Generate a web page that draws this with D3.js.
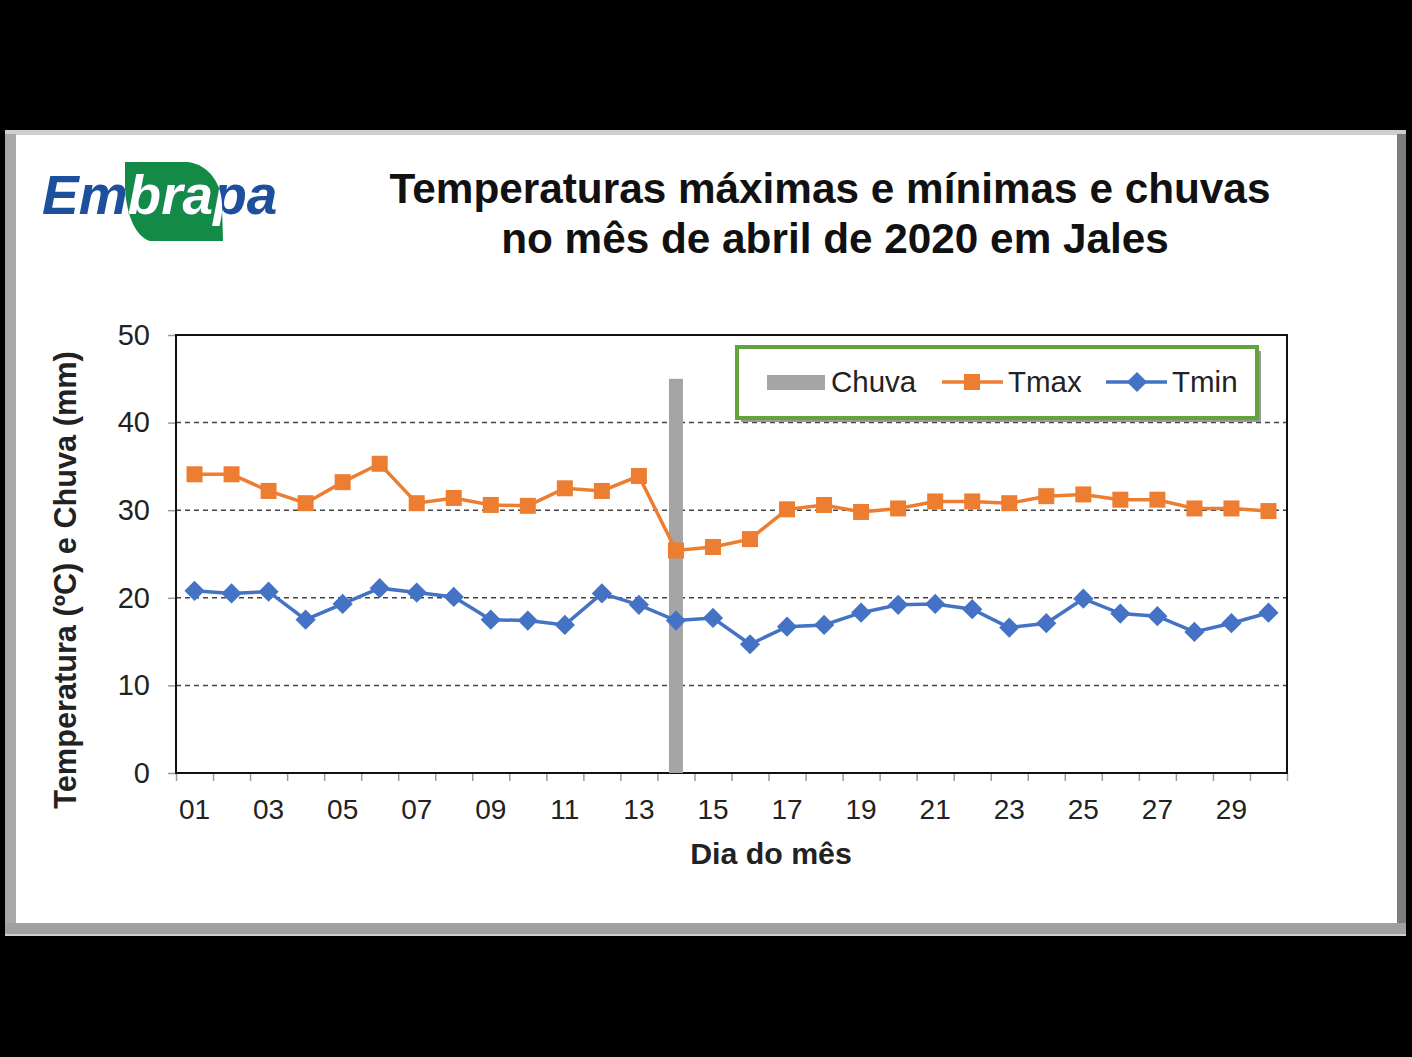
<!DOCTYPE html>
<html>
<head>
<meta charset="utf-8">
<script src="https://cdn.jsdelivr.net/npm/d3@7"></script>
<style>
  body { margin: 0; background: #000; }
  svg { display: block; }
  text { font-family: "Liberation Sans", Arial, sans-serif; }
</style>
</head>
<body>
<svg id="chart"></svg>
<script>
// data
const days = d3.range(1, 31).map(d => String(d).padStart(2, '0'));
const tickLabels = days.filter((d, i) => i % 2 === 0);
const chuva = [0,0,0,0,0,0,0,0,0,0,0,0,0,45,0,0,0,0,0,0,0,0,0,0,0,0,0,0,0,0];
const tmax = [34.1,34.1,32.2,30.8,33.2,35.3,30.8,31.4,30.6,30.5,32.5,32.2,33.9,25.4,25.8,26.7,30.1,30.6,29.8,30.2,31.0,31.0,30.8,31.6,31.8,31.2,31.2,30.2,30.2,29.9];
const tmin = [20.8,20.5,20.7,17.5,19.3,21.1,20.6,20.1,17.5,17.4,16.9,20.5,19.2,17.4,17.7,14.7,16.7,16.9,18.3,19.2,19.3,18.7,16.6,17.1,19.9,18.2,17.9,16.1,17.1,18.3];
const yTicks = [0, 10, 20, 30, 40, 50];

const W = 1412, H = 1057;
const plot = { left: 176, top: 335, right: 1287, bottom: 773 };
const orange = '#ed7d31', blue = '#4472c4', grey = '#a5a5a5';

const svg = d3.select('#chart').attr('width', W).attr('height', H);

// background + bevelled panel
svg.append('rect').attr('width', W).attr('height', H).attr('fill', '#000');
svg.append('rect').attr('x', 5).attr('y', 130).attr('width', 1401).attr('height', 806).attr('fill', '#cfcfcf');
svg.append('rect').attr('x', 5).attr('y', 134).attr('width', 11).attr('height', 800).attr('fill', '#a8a8a8');
svg.append('rect').attr('x', 1397).attr('y', 134).attr('width', 9).attr('height', 800).attr('fill', '#7d7d7d');
svg.append('rect').attr('x', 5).attr('y', 923).attr('width', 1401).attr('height', 11).attr('fill', '#a0a0a0');
svg.append('rect').attr('x', 16).attr('y', 135).attr('width', 1381).attr('height', 788).attr('fill', '#fff');

// logo
const leaf = 'M125,162 L188,162 C210,165 222,185 222,205 L223,241 L150,241 C135,236 127,215 125,190 Z';
svg.append('clipPath').attr('id', 'leafclip').append('path').attr('d', leaf);
svg.append('path').attr('d', leaf).attr('fill', '#138a45');
const logoText = g => g.append('text')
  .attr('x', 42).attr('y', 214)
  .style('font-size', '55px').style('font-weight', 'bold').style('font-style', 'italic')
  .text('Embrapa');
logoText(svg).attr('fill', '#1d4f9c');
logoText(svg.append('g').attr('clip-path', 'url(#leafclip)')).attr('fill', '#fff');

// title
svg.append('text').attr('x', 830).attr('y', 203).attr('text-anchor', 'middle')
  .style('font-size', '42.3px').style('font-weight', 'bold').attr('fill', '#111')
  .text('Temperaturas máximas e mínimas e chuvas');
svg.append('text').attr('x', 835).attr('y', 253).attr('text-anchor', 'middle')
  .style('font-size', '42.3px').style('font-weight', 'bold').attr('fill', '#111')
  .text('no mês de abril de 2020 em Jales');

// scales
const x = d3.scaleBand().domain(days).range([plot.left, plot.right]);
const xEdge = d3.scaleLinear().domain([0, days.length]).range([plot.left, plot.right]);
const y = d3.scaleLinear().domain([0, 50]).range([plot.bottom, plot.top]);
const cx = d => x(d) + x.bandwidth() / 2;

// gridlines
svg.append('g').selectAll('line')
  .data(yTicks.filter(t => t > 0 && t < 50))
  .join('line')
  .attr('x1', plot.left).attr('x2', plot.right)
  .attr('y1', d => y(d)).attr('y2', d => y(d))
  .attr('stroke', '#444').attr('stroke-width', 1.5).attr('stroke-dasharray', '5,4');

// axes
const yAxisG = svg.append('g').attr('transform', `translate(${plot.left},0)`)
  .call(d3.axisLeft(y).tickValues(yTicks).tickSize(8).tickPadding(18));
yAxisG.select('.domain').remove();
yAxisG.selectAll('line').attr('stroke', '#999').attr('stroke-width', 1.5);
yAxisG.selectAll('text').style('font-size', '29px').attr('fill', '#222')
  .attr('font-family', null);

const xTickG = svg.append('g').attr('transform', `translate(0,${plot.bottom})`)
  .call(d3.axisBottom(xEdge).tickValues(d3.range(0, 31)).tickSize(8).tickFormat(''));
xTickG.select('.domain').remove();
xTickG.selectAll('line').attr('stroke', '#999').attr('stroke-width', 1.5);

const xAxisG = svg.append('g').attr('transform', `translate(0,${plot.bottom})`)
  .call(d3.axisBottom(x).tickValues(tickLabels).tickSize(0).tickPadding(26));
xAxisG.select('.domain').remove();
xAxisG.selectAll('text').style('font-size', '28px').attr('fill', '#222')
  .attr('font-family', null);

// plot frame
svg.append('rect')
  .attr('x', plot.left).attr('y', plot.top)
  .attr('width', plot.right - plot.left).attr('height', plot.bottom - plot.top)
  .attr('fill', 'none').attr('stroke', '#111').attr('stroke-width', 2);

// axis titles
svg.append('text').attr('x', 771).attr('y', 864).attr('text-anchor', 'middle')
  .style('font-size', '30.3px').style('font-weight', 'bold').attr('fill', '#222')
  .text('Dia do mês');
svg.append('text').attr('transform', 'translate(76,580) rotate(-90)').attr('text-anchor', 'middle')
  .style('font-size', '30.7px').style('font-weight', 'bold').attr('fill', '#222')
  .text('Temperatura (ºC) e Chuva (mm)');

// rain bars
svg.append('g').selectAll('rect')
  .data(days.map((d, i) => ({ d, v: chuva[i] })).filter(e => e.v > 0))
  .join('rect')
  .attr('x', e => cx(e.d) - 7).attr('width', 14)
  .attr('y', e => y(e.v)).attr('height', e => y(0) - y(e.v))
  .attr('fill', grey);

// lines + markers
const line = d3.line().x(e => cx(e.d)).y(e => y(e.v));
const tmaxData = days.map((d, i) => ({ d, v: tmax[i] }));
const tminData = days.map((d, i) => ({ d, v: tmin[i] }));

svg.append('path').datum(tmaxData).attr('d', line)
  .attr('fill', 'none').attr('stroke', orange).attr('stroke-width', 3.5);
svg.append('g').selectAll('rect').data(tmaxData).join('rect')
  .attr('x', e => cx(e.d) - 8).attr('y', e => y(e.v) - 8)
  .attr('width', 16).attr('height', 16).attr('fill', orange);

svg.append('path').datum(tminData).attr('d', line)
  .attr('fill', 'none').attr('stroke', blue).attr('stroke-width', 3.5);
const diamond = d3.symbol().type(d3.symbolDiamond2).size(260);
svg.append('g').selectAll('path').data(tminData).join('path')
  .attr('transform', e => `translate(${cx(e.d)},${y(e.v)})`)
  .attr('d', diamond).attr('fill', blue);

// legend
const lg = svg.append('g');
lg.append('rect').attr('x', 741).attr('y', 351).attr('width', 520).attr('height', 71).attr('fill', '#9a9a9a');
lg.append('rect').attr('x', 737).attr('y', 347).attr('width', 520).attr('height', 71)
  .attr('fill', '#fff').attr('stroke', '#63a33e').attr('stroke-width', 4);
lg.append('rect').attr('x', 767).attr('y', 375).attr('width', 58).attr('height', 15).attr('fill', grey);
lg.append('text').attr('x', 831).attr('y', 392).style('font-size', '29.5px').attr('fill', '#222').text('Chuva');
lg.append('line').attr('x1', 942).attr('x2', 1003).attr('y1', 382).attr('y2', 382)
  .attr('stroke', orange).attr('stroke-width', 3.5);
lg.append('rect').attr('x', 964).attr('y', 374).attr('width', 16).attr('height', 16).attr('fill', orange);
lg.append('text').attr('x', 1008).attr('y', 392).style('font-size', '29.5px').attr('fill', '#222').text('Tmax');
lg.append('line').attr('x1', 1106).attr('x2', 1167).attr('y1', 382).attr('y2', 382)
  .attr('stroke', blue).attr('stroke-width', 3.5);
lg.append('path').attr('transform', 'translate(1137,382)').attr('d', diamond).attr('fill', blue);
lg.append('text').attr('x', 1172).attr('y', 392).style('font-size', '29.5px').attr('fill', '#222').text('Tmin');
</script>
</body>
</html>
